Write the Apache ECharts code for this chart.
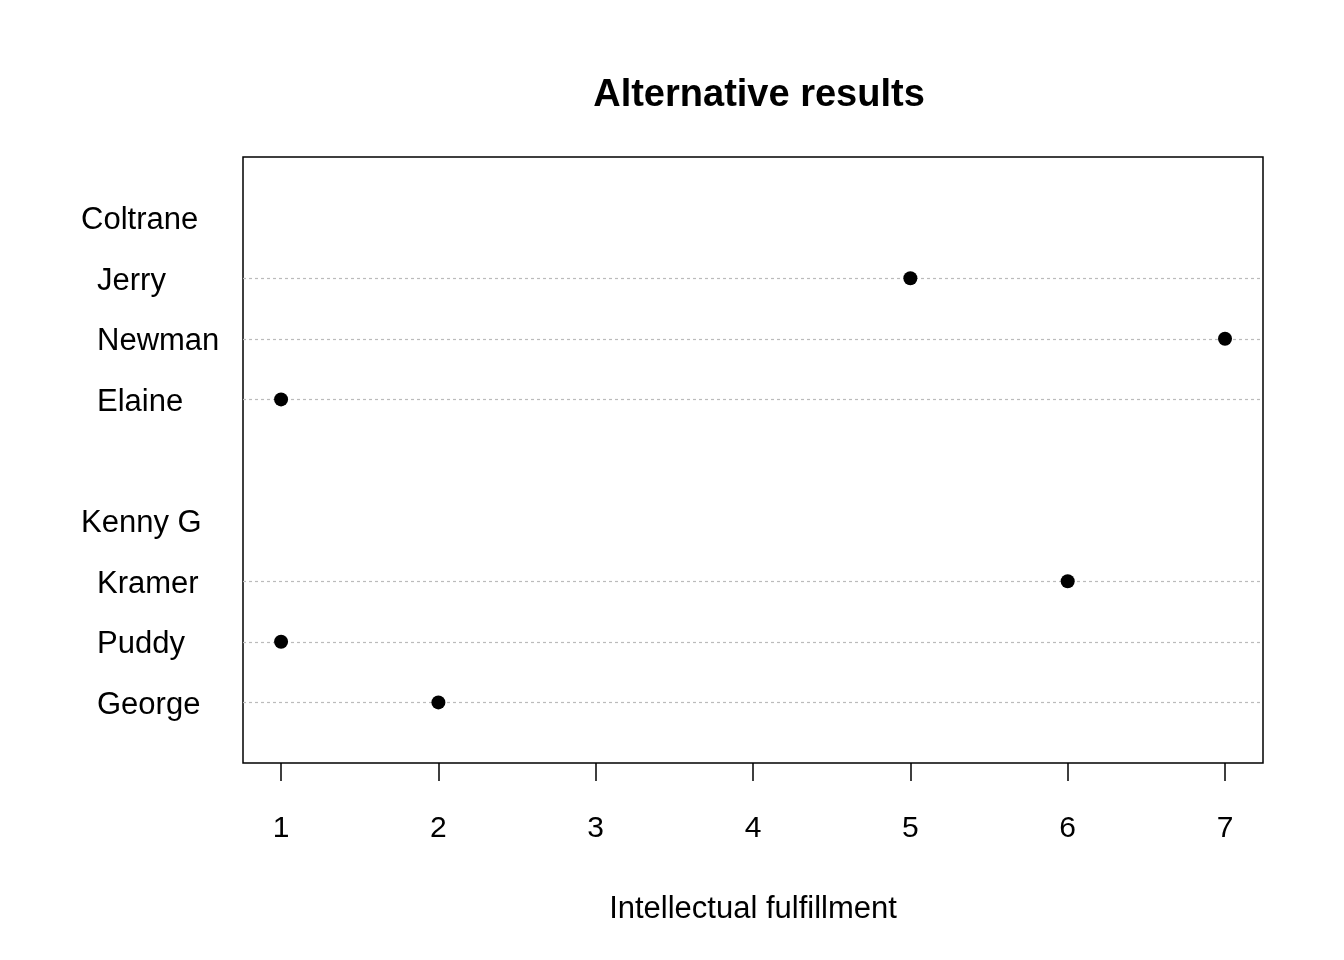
<html><head><script src="https://cdn.jsdelivr.net/npm/echarts@6/dist/echarts.min.js"></script></head><body style="margin:0;background:#fff"><div id="c" style="width:1344px;height:960px"></div><script>
const rowLabels = ['George','Puddy','Kramer','Kenny G','','Elaine','Newman','Jerry','Coltrane'];
const groupRows = ['Kenny G','Coltrane'];
const names = ['George','Puddy','Kramer','Elaine','Newman','Jerry'];
const values = [2,1,6,1,7,5];
const xTicks = [1,2,3,4,5,6,7];
const pos = n => rowLabels.indexOf(n)+1;
const F = 'Liberation Sans, Arial, sans-serif';
const chart = echarts.init(document.getElementById('c'));
chart.setOption({
  animation:false,
  title:{text:'Alternative results',left:754,textAlign:'center',top:58,textStyle:{fontFamily:F,fontSize:38,fontWeight:'bold',color:'#000'}},
  grid:{left:243,right:81,top:157,bottom:197,show:true,borderColor:'#000',borderWidth:1.5,backgroundColor:'transparent'},
  xAxis:{type:'value',min:0.758,max:7.2415,interval:1,
    name:'Intellectual fulfillment',nameLocation:'middle',nameGap:120,nameTextStyle:{fontFamily:F,fontSize:31,color:'#000'},
    axisLine:{show:false},splitLine:{show:false},
    axisTick:{show:true,length:18,lineStyle:{color:'#000',width:1.5},customValues:xTicks},
    axisLabel:{customValues:xTicks,fontFamily:F,fontSize:30,color:'#000',margin:40}},
  yAxis:{type:'value',min:0,max:10,interval:1,axisLine:{show:false},axisTick:{show:false},splitLine:{show:false},
    axisLabel:{align:'left',margin:162,formatter:v=>{const n=rowLabels[v-1];if(!n)return '';return groupRows.includes(n)?'{g|'+n+'}':'{i|'+n+'}';},
      rich:{g:{fontFamily:F,fontSize:31,color:'#000',padding:[6,0,0,0]},i:{fontFamily:F,fontSize:31,color:'#000',padding:[6,0,0,16]}}}},
  series:[{type:'scatter',symbolSize:14,itemStyle:{color:'#000',opacity:1},z:5,
    data:names.map((n,i)=>[values[i],pos(n)]),
    markLine:{silent:true,symbol:'none',label:{show:false},lineStyle:{color:'#bbb',type:[3,3],width:1.2},
      data:names.map(n=>({yAxis:pos(n)}))}}]
});
</script></body></html>
